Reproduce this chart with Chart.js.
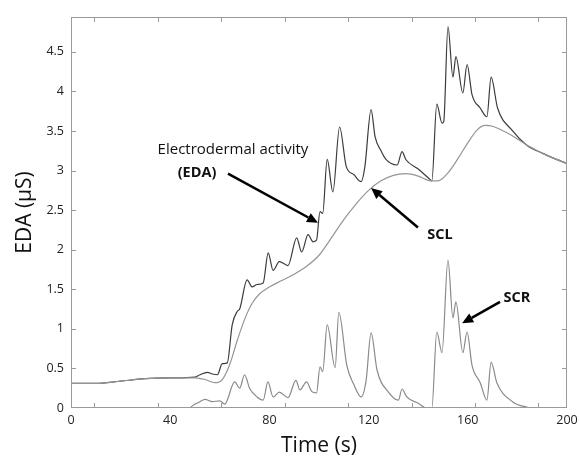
<!DOCTYPE html>
<html>
<head>
<meta charset="utf-8">
<script src="https://cdn.jsdelivr.net/npm/chart.js@4/dist/chart.umd.min.js"></script>
<style>
  html, body { margin: 0; padding: 0; background: #fff; }
  #wrap { width: 579px; height: 459px; }
</style>
</head>
<body>
<div id="wrap"><canvas id="edaChart" width="579" height="459"></canvas></div>
<script>
// time axis (s)
const xTickLabels = [0, 40, 80, 120, 160, 200];
const xTickMarks = [9.3, 34.9, 60.5, 86.1, 111.7, 137.3, 162.9, 188.5];
const yTickLabels = [0, 0.5, 1, 1.5, 2, 2.5, 3, 3.5, 4, 4.5];

// raw electrodermal activity
const edaTime = [0, 10, 20, 30, 40, 50, 52, 55, 57, 59, 61, 63, 65, 67, 68, 71, 73, 75, 77.5, 79.5,
  81.5, 84, 87.5, 91, 93, 95.6, 97.6, 99, 100.4, 101.5, 103.3, 105.6, 108.3, 111, 114, 117, 118.5,
  121, 122.6, 125, 127, 131.5, 133.5, 135, 140, 144, 145.5, 147.5, 149.6, 150.3, 152, 154, 155.2,
  158, 159.7, 161.7, 165, 167.7, 169.4, 172, 177.8, 183.8, 190, 195, 200];
const edaValue = [0.31, 0.31, 0.34, 0.37, 0.38, 0.39, 0.42, 0.45, 0.43, 0.42, 0.56, 0.57, 1.05, 1.22, 1.25, 1.62, 1.53, 1.56, 1.58, 1.96,
  1.74, 1.85, 1.80, 2.15, 1.97, 2.19, 2.10, 2.12, 2.48, 2.46, 3.14, 2.73, 3.55, 3.05, 2.95, 2.86, 3.05,
  3.77, 3.43, 3.25, 3.14, 3.07, 3.24, 3.14, 3.02, 2.91, 2.87, 3.84, 3.60, 3.62, 4.82, 4.18, 4.44,
  3.98, 4.34, 3.96, 3.79, 3.68, 4.18, 3.79, 3.51, 3.32, 3.22, 3.15, 3.09];

// tonic level (SCL)
const sclTime = [0, 10, 20, 30, 40, 50, 54, 58, 61, 64, 67, 70, 73, 76, 80, 85, 90, 95, 100, 105,
  110, 115, 120, 125, 130, 135, 140, 145, 148, 152, 156, 160, 164, 167, 170, 175, 180, 185, 190, 195, 200];
const sclValue = [0.31, 0.31, 0.34, 0.37, 0.38, 0.38, 0.36, 0.32, 0.36, 0.55, 0.85, 1.12, 1.32, 1.44, 1.53, 1.61, 1.69, 1.79, 1.93, 2.15,
  2.38, 2.58, 2.75, 2.87, 2.94, 2.96, 2.93, 2.87, 2.87, 2.97, 3.15, 3.35, 3.52, 3.57, 3.56, 3.49, 3.40, 3.30, 3.22, 3.15, 3.09];

// phasic responses (SCR)
const scrTime = [0, 48, 49, 52, 54, 57, 60, 62, 66, 68, 70, 72, 75, 77.5, 79.4, 81.5, 84, 87.5, 90.7, 92.3,
  95, 97, 99, 100.4, 101.5, 103.3, 106.5, 108, 111.2, 114, 117, 119, 121, 123.4, 128, 132, 133.5, 135.4,
  140, 143.5, 145.5, 147.5, 149.6, 152, 154, 155.2, 158, 159.7, 161.7, 165, 167.7, 169.4, 171.7, 178, 184, 186, 200];
const scrValue = [0, 0, 0.03, 0.08, 0.11, 0.08, 0.09, 0.05, 0.33, 0.25, 0.42, 0.25, 0.14, 0.10, 0.33, 0.14, 0.20, 0.13, 0.35, 0.23,
  0.33, 0.21, 0.19, 0.52, 0.46, 1.05, 0.51, 1.21, 0.54, 0.30, 0.14, 0.35, 0.95, 0.48, 0.20, 0.10, 0.24, 0.14,
  0.06, 0, 0, 0.96, 0.70, 1.87, 1.14, 1.34, 0.70, 0.96, 0.54, 0.32, 0.10, 0.58, 0.32, 0.08, 0.01, 0, 0];

const toPoints = (ts, vs) => ts.map((t, i) => ({ x: t, y: vs[i] }));

const FONT = "'Open Sans', 'DejaVu Sans', sans-serif";

// text labels and arrows, placed in data units
const notes = [
  { text: 'Electrodermal activity', x: 65.3, y: 3.26, bold: false, size: 15 },
  { text: '(EDA)', x: 50.8, y: 2.97, bold: true, size: 14.5 },
  { text: 'SCL', x: 148.8, y: 2.19, bold: true, size: 14.5 },
  { text: 'SCR', x: 179.8, y: 1.39, bold: true, size: 14.5 }
];
const arrows = [
  { from: [63.3, 2.96], to: [99.6, 2.34] },
  { from: [139.9, 2.28], to: [121, 2.78] },
  { from: [173, 1.34], to: [157.7, 1.07] }
];

const framePlugin = {
  id: 'frame',
  afterDatasetsDraw(chart) {
    const { ctx, chartArea: a, scales } = chart;
    const xs = scales.x, ys = scales.y;
    ctx.save();
    ctx.strokeStyle = '#9a9a9a';
    ctx.lineWidth = 1;
    ctx.strokeRect(a.left + 0.5, a.top + 0.5, a.right - a.left - 1, a.bottom - a.top - 1);
    ctx.beginPath();
    xTickMarks.forEach(t => {
      const px = Math.round(xs.getPixelForValue(t)) + 0.5;
      ctx.moveTo(px, a.bottom); ctx.lineTo(px, a.bottom - 5);
      ctx.moveTo(px, a.top); ctx.lineTo(px, a.top + 5);
    });
    yTickLabels.slice(1).forEach(v => {
      const py = Math.round(ys.getPixelForValue(v)) + 0.5;
      ctx.moveTo(a.left, py); ctx.lineTo(a.left + 5, py);
      ctx.moveTo(a.right, py); ctx.lineTo(a.right - 5, py);
    });
    ctx.stroke();

    // annotations
    ctx.fillStyle = '#111';
    ctx.textAlign = 'center';
    ctx.textBaseline = 'middle';
    notes.forEach(n => {
      ctx.font = (n.bold ? 'bold ' : '') + n.size + 'px ' + FONT;
      ctx.fillText(n.text, xs.getPixelForValue(n.x), ys.getPixelForValue(n.y));
    });
    ctx.strokeStyle = '#000';
    ctx.fillStyle = '#000';
    ctx.lineWidth = 2.5;
    arrows.forEach(ar => {
      const x1 = xs.getPixelForValue(ar.from[0]), y1 = ys.getPixelForValue(ar.from[1]);
      const x2 = xs.getPixelForValue(ar.to[0]), y2 = ys.getPixelForValue(ar.to[1]);
      const ang = Math.atan2(y2 - y1, x2 - x1);
      const head = 11, half = 5;
      const bx = x2 - head * Math.cos(ang), by = y2 - head * Math.sin(ang);
      ctx.beginPath();
      ctx.moveTo(x1, y1); ctx.lineTo(bx, by);
      ctx.stroke();
      ctx.beginPath();
      ctx.moveTo(x2, y2);
      ctx.lineTo(bx + half * Math.sin(ang), by - half * Math.cos(ang));
      ctx.lineTo(bx - half * Math.sin(ang), by + half * Math.cos(ang));
      ctx.closePath();
      ctx.fill();
    });
    ctx.restore();
  }
};

const lineStyle = { pointRadius: 0, fill: false, cubicInterpolationMode: 'monotone' };

new Chart(document.getElementById('edaChart'), {
  type: 'line',
  data: {
    datasets: [
      { label: 'SCL', data: toPoints(sclTime, sclValue), borderColor: '#959595', borderWidth: 1.2, ...lineStyle },
      { label: 'SCR', data: toPoints(scrTime, scrValue), borderColor: '#8a8a8a', borderWidth: 1.2, ...lineStyle },
      { label: 'EDA', data: toPoints(edaTime, edaValue), borderColor: '#3c3c3c', borderWidth: 1.2, ...lineStyle }
    ]
  },
  options: {
    responsive: false,
    animation: false,
    layout: { padding: { top: 17, right: 12, left: 0, bottom: 0 } },
    plugins: { legend: { display: false }, tooltip: { enabled: false } },
    scales: {
      x: {
        type: 'linear',
        min: 0,
        max: 200,
        afterBuildTicks: s => { s.ticks = xTickLabels.map(v => ({ value: v })); },
        afterFit: s => { s.height = 51; s.paddingRight = 0; s.paddingLeft = 0; },
        grid: { display: false, drawTicks: false },
        border: { display: false },
        ticks: { font: { family: FONT, size: 12.5 }, color: '#222', padding: 5, maxRotation: 0 },
        title: { display: true, text: 'Time (s)', font: { family: FONT, size: 21 }, color: '#111', padding: { top: 0, bottom: 0 } }
      },
      y: {
        min: 0,
        max: 4.94,
        afterBuildTicks: s => { s.ticks = yTickLabels.map(v => ({ value: v })); },
        afterFit: s => { s.width = 71; s.paddingTop = 0; s.paddingBottom = 0; },
        grid: { display: false, drawTicks: false },
        border: { display: false },
        ticks: { font: { family: FONT, size: 12.5 }, color: '#222', padding: 7, callback: v => String(v) },
        title: { display: true, text: 'EDA (μS)', font: { family: FONT, size: 21 }, color: '#111', padding: { top: 12, bottom: 0 } }
      }
    }
  },
  plugins: [framePlugin]
});
</script>
</body>
</html>
